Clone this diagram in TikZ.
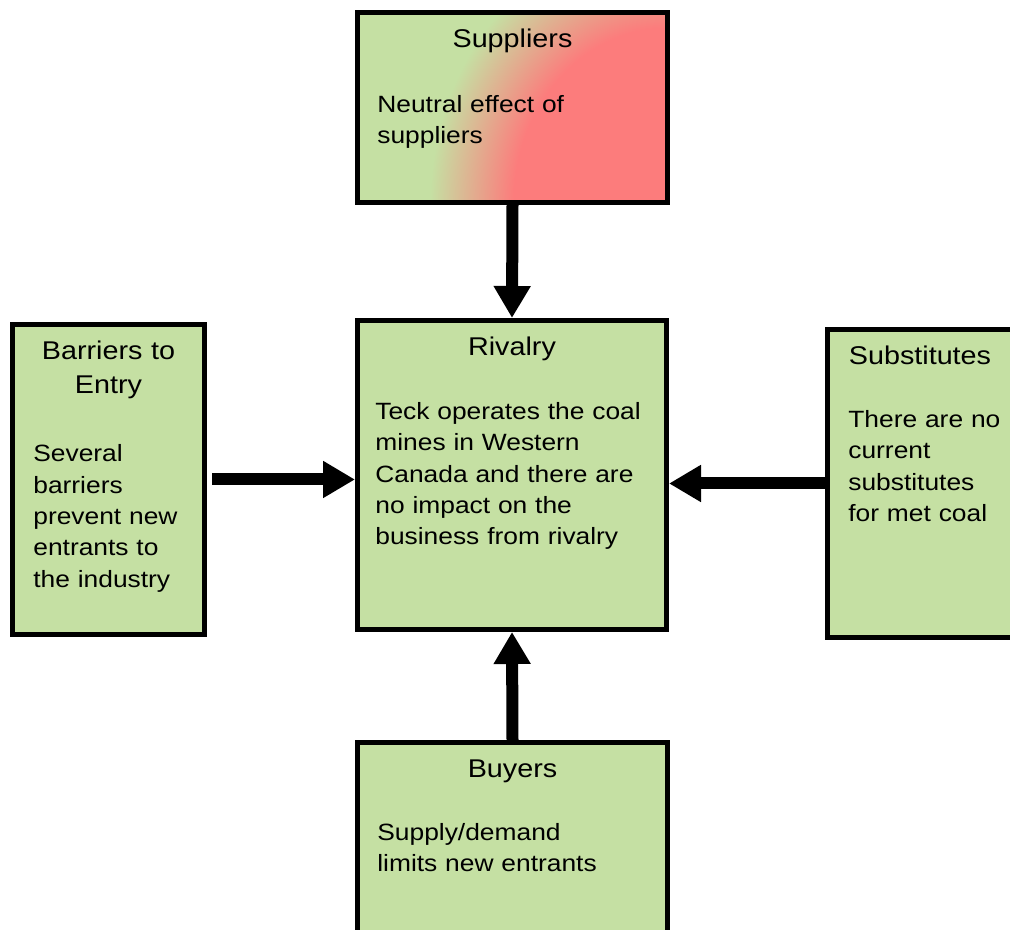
\documentclass[tikz,border=0pt]{standalone}
\usepackage{fontspec}
\setmainfont{Liberation Sans}[FakeStretch=1.12]
\usepackage{graphicx}
\usepackage{tikz}
\usetikzlibrary{arrows.meta}

\definecolor{boxgreen}{RGB}{197,224,163}
\definecolor{supred}{RGB}{252,124,124}
\pgfdeclareradialshading{supglow}{\pgfpoint{0cm}{0cm}}{color(0cm)=(supred); color(3.5cm)=(supred); color(5.4cm)=(boxgreen); color(8cm)=(boxgreen)}

\begin{document}
\begin{tikzpicture}[
  force/.style={line width=0.24cm, -{Triangle[length=0.64cm,width=0.7cm]}},
  box/.style={draw, line width=0.1cm, fill=boxgreen, rectangle, inner sep=0pt},
  title/.style={anchor=base, inner sep=0pt, align=center, font=\fontsize{14.6}{18.8}\selectfont},
  body/.style={anchor=base west, inner sep=0pt, align=left},
  font=\fontsize{13.4}{17.8}\selectfont
]
% page
\useasboundingbox (0,0) rectangle (20.2,18.6);
\clip (0,0) rectangle (20.2,18.6);

% the boxes
\node[box, minimum width=6.2cm, minimum height=3.8cm,
  path picture={\node[inner sep=0pt] at (path picture bounding box.south east)
    {\scalebox{0.88}[1]{\pgfuseshading{supglow}}};}]
  (sup) at (10.25,16.45) {};
\node[box, minimum width=6.18cm, minimum height=6.18cm] (riv) at (10.24,9.1) {};
\node[box, minimum width=3.84cm, minimum height=6.2cm] (bar) at (2.17,9.01) {};
\node[box, minimum width=3.7cm, minimum height=6.16cm] (sub) at (18.4,8.93) {};
\node[box, minimum width=6.2cm, minimum height=4.75cm] (buy) at (10.25,1.375) {};

% titles
\node[title, text width=5.6cm] (supT) at ([yshift=-0.76cm]sup.north) {Suppliers};
\node[title, text width=5.6cm] (rivT) at ([yshift=-0.76cm]riv.north) {Rivalry};
\node[title, text width=3.7cm] (barT) at ([yshift=-0.76cm]bar.north) {Barriers to\\Entry};
\node[title, text width=3.5cm] (subT) at ([yshift=-0.76cm]sub.north) {Substitutes};
\node[title, text width=5.6cm] (buyT) at ([yshift=-0.76cm]buy.north) {Buyers};

% texts
\node[body, text width=5.6cm] (supB) at ([xshift=0.44cm,yshift=-2.05cm]sup.north west)
  {Neutral effect of\\suppliers};
\node[body, text width=5.6cm] (rivB) at ([xshift=0.4cm,yshift=-2.03cm]riv.north west)
  {Teck operates the coal\\mines in Western\\Canada and there are\\no impact on the\\business from rivalry};
\node[body, text width=3.3cm] (barB) at ([xshift=0.46cm,yshift=-2.8cm]bar.north west)
  {Several\\barriers\\prevent new\\entrants to\\the industry};
\node[body, text width=3.4cm] (subB) at ([xshift=0.46cm,yshift=-2.01cm]sub.north west)
  {There are no\\current\\substitutes\\for met coal};
\node[body, text width=5.6cm] (buyB) at ([xshift=0.44cm,yshift=-2.01cm]buy.north west)
  {Supply/demand\\limits new entrants};

% the forces
\draw[force] (sup.south) -- (riv.north);
\draw[force] (buy.north) -- (riv.south);
\draw[force, shorten <=0.1cm] (bar.east) -- (bar.east -| riv.west);
\draw[force] (sub.west) -- (sub.west -| riv.east);
\end{tikzpicture}
\end{document}
